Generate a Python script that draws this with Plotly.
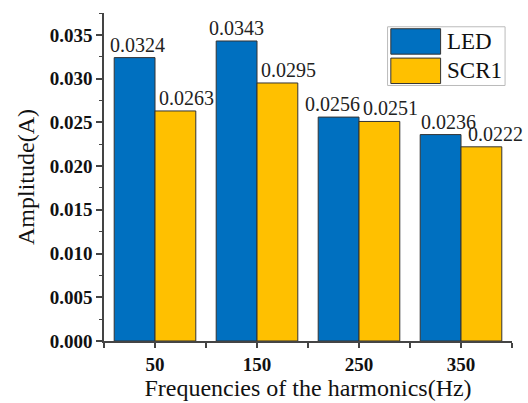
import plotly.graph_objects as go

categories = ["50", "150", "250", "350"]
led = [0.0324, 0.0343, 0.0256, 0.0236]
scr1 = [0.0263, 0.0295, 0.0251, 0.0222]
series_names = ["LED", "SCR1"]
colors = ["#0070C0", "#FFC000"]
y_ticks = [0.000, 0.005, 0.010, 0.015, 0.020, 0.025, 0.030, 0.035]

# label horizontal nudges (pixels) as placed in the reference
label_shift = [[3, 0, -6, 8], [11, 11, 11, 14]]

xpos = list(range(len(categories)))
font_family = "Liberation Serif, Times New Roman, serif"
bargap = 0.2

fig = go.Figure()
for name, vals, col in zip(series_names, [led, scr1], colors):
    fig.add_trace(go.Bar(
        x=xpos, y=vals, name=name,
        marker=dict(color=col, line=dict(color="#333333", width=1)),
        showlegend=False,
    ))

# value labels above bars
half = (1 - bargap) / 4
for si, vals in enumerate([led, scr1]):
    off = -half if si == 0 else half
    for xi, v in enumerate(vals):
        fig.add_annotation(x=xpos[xi] + off, y=v, xref="x", yref="y",
                           text=f"{v:.4f}", showarrow=False,
                           xanchor="center", yanchor="bottom",
                           xshift=label_shift[si][xi], yshift=0,
                           font=dict(family=font_family, size=20, color="#222222"))

fig.update_layout(
    width=528, height=403,
    margin=dict(l=104, r=16, t=13, b=60),
    paper_bgcolor="white", plot_bgcolor="white",
    barmode="group", bargap=bargap, bargroupgap=0,
    font=dict(family=font_family, color="#111111"),
)
fig.update_xaxes(
    range=[-0.5, 3.5],
    tickvals=xpos, ticktext=categories,
    tickfont=dict(family=font_family, size=19, color="#111111", weight="bold"),
    ticks="outside", ticklen=5, tickwidth=1.5, tickcolor="#444444",
    minor=dict(tickvals=[-0.5, 0.5, 1.5, 2.5, 3.5], ticks="outside", ticklen=5, tickwidth=1.5, tickcolor="#444444"),
    showline=True, linecolor="#444444", linewidth=1.5,
    showgrid=False, zeroline=False,
    title=dict(text="Frequencies of the harmonics(Hz)", font=dict(family=font_family, size=24, color="#111111"), standoff=0),
)
fig.update_yaxes(
    range=[0, 0.0375],
    tickvals=y_ticks, ticktext=[f"{v:.3f}" for v in y_ticks],
    tickfont=dict(family=font_family, size=19, color="#111111", weight="bold"),
    ticks="outside", ticklen=6, tickwidth=1.5, tickcolor="#444444",
    minor=dict(dtick=0.0025, ticks="outside", ticklen=3, tickwidth=1.2, tickcolor="#444444", showgrid=False),
    showline=True, linecolor="#444444", linewidth=1.5,
    showgrid=False, zeroline=False,
    title=dict(text="Amplitude(A)", font=dict(family=font_family, size=24, color="#111111"), standoff=8),
)

# Legend drawn as large swatches (paper coordinates)
lx0, lx1, ly0, ly1 = 0.695, 0.983, 0.779, 0.958
fig.add_shape(type="rect", xref="paper", yref="paper", x0=lx0, x1=lx1, y0=ly0, y1=ly1,
              line=dict(color="#bbbbbb", width=1), fillcolor="white", layer="above")
row_h = (ly1 - ly0) / 2
for i, (name, col) in enumerate(zip(series_names, colors)):
    top = ly1 - i * row_h - 0.006
    bot = top - row_h + 0.012
    fig.add_shape(type="rect", xref="paper", yref="paper", x0=lx0 + 0.008, x1=lx0 + 0.13,
                  y0=bot, y1=top, fillcolor=col, line=dict(color="#333333", width=1), layer="above")
    fig.add_annotation(xref="paper", yref="paper", x=lx0 + 0.14, y=(top + bot) / 2,
                       text=name, showarrow=False, xanchor="left", yanchor="middle",
                       font=dict(family=font_family, size=23, color="#111111"))

fig.write_html("out.html", config={"displayModeBar": False},
               post_script="document.body.style.margin='0';")
